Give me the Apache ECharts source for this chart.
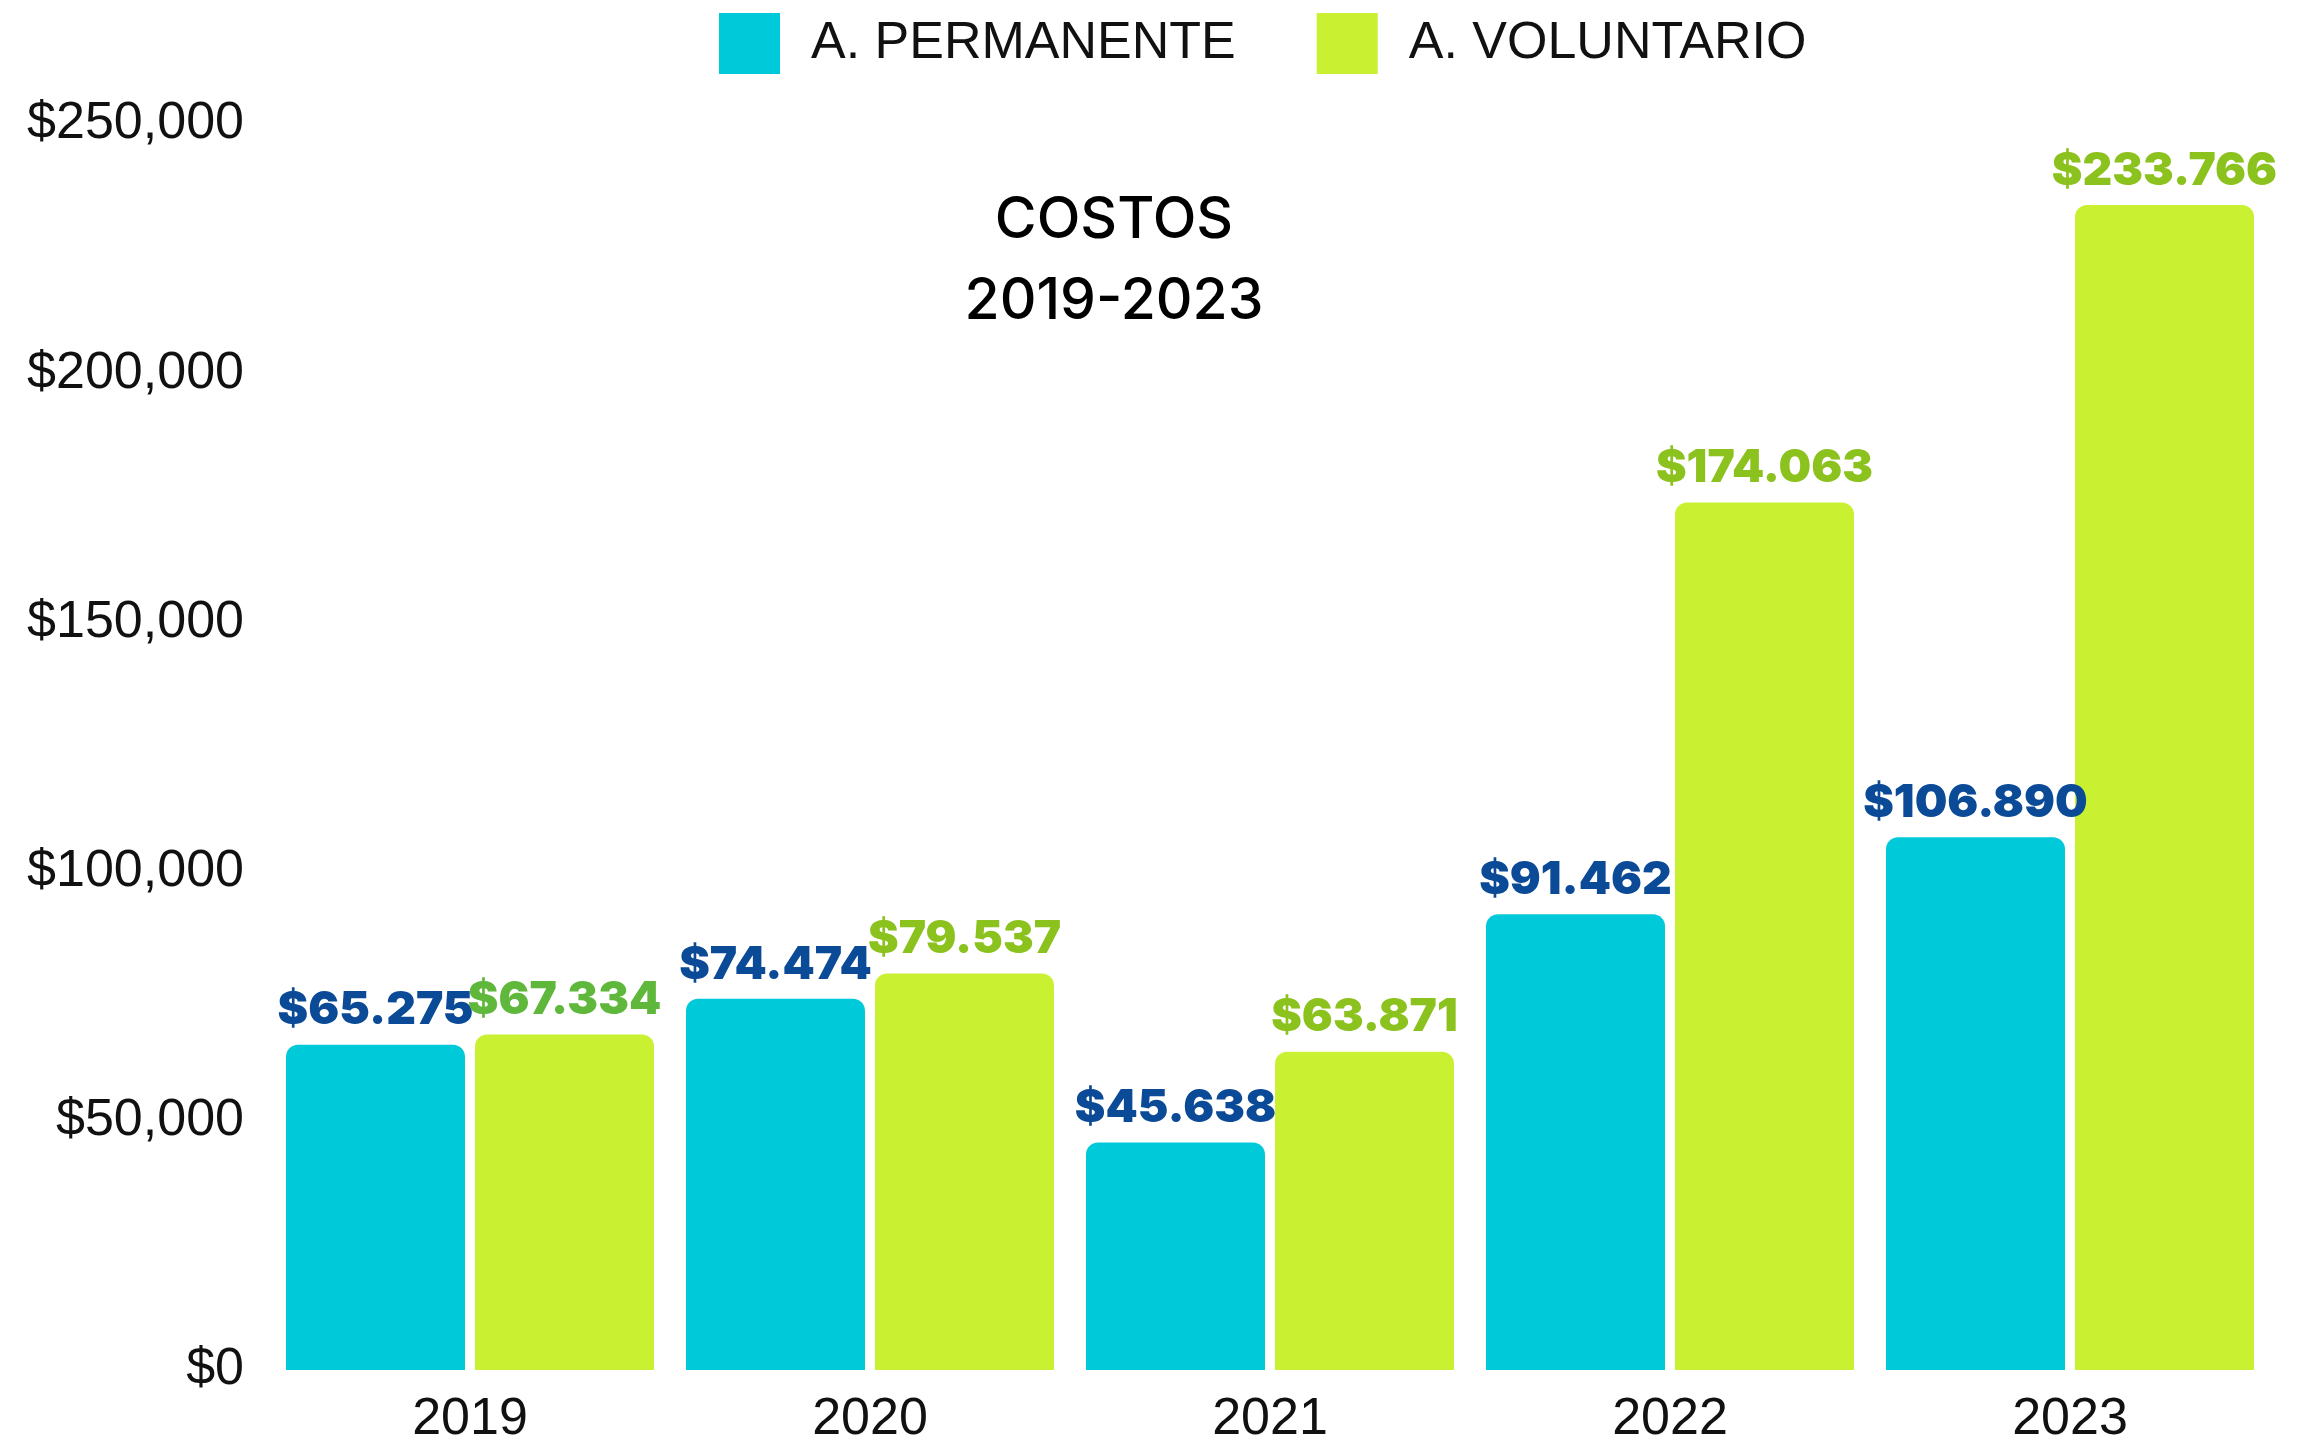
<!DOCTYPE html>
<html><head><meta charset="utf-8">
<script src="https://cdn.jsdelivr.net/npm/echarts@6/dist/echarts.min.js"></script>
<style>html,body{margin:0;padding:0;background:#fff;overflow:hidden}#c{width:2321px;height:1446px}</style>
</head><body><div id="c"></div>
<script>
const years = ['2019','2020','2021','2022','2023'];
const permanente = [65275, 74474, 45638, 91462, 106890];
const voluntario = [67334, 79537, 63871, 174063, 233766];
const voluntarioLabelColors = ['#5fb83b','#8cc21e','#8cc21e','#8cc21e','#8cc21e'];
const seriesNames = ['A. PERMANENTE','A. VOLUNTARIO'];
const titleLines = ['COSTOS','2019-2023'];

function fmt(v){ return '$' + String(v).replace(/\B(?=(\d{3})+(?!\d))/g,'.'); }
function fmtAxis(v){ return '$' + String(v).replace(/\B(?=(\d{3})+(?!\d))/g,','); }

const chart = echarts.init(document.getElementById('c'));
const labelBase = {show:true, position:'top', distance:11, fontFamily:'Inter', fontWeight:900, fontSize:46};
chart.setOption({
  animation:false,
  title:{text:titleLines.join('\n'), left:1114, top:180, textAlign:'center', padding:0,
    textStyle:{fontFamily:'Inter', fontWeight:500, fontSize:57, lineHeight:81, color:'#000'}},
  legend:{left:719, top:13, itemWidth:61, itemHeight:61, itemGap:81, icon:'rect', padding:0,
    textStyle:{fontFamily:'Liberation Sans', fontSize:52, color:'#111', padding:[7,0,0,26]}},
  grid:{left:270, width:2000, top:124, height:1272, containLabel:false},
  xAxis:{type:'category', data:years, axisLine:{show:false}, axisTick:{show:false},
    axisLabel:{fontFamily:'Liberation Sans', fontSize:52, color:'#111', margin:24}},
  yAxis:{type:'value', min:0, max:250000, interval:50000, splitLine:{show:false},
    axisLine:{show:false}, axisTick:{show:false},
    axisLabel:{fontFamily:'Liberation Sans', fontSize:52, color:'#111', margin:26, formatter:fmtAxis}},
  series:[
    {name:seriesNames[0], type:'bar', data:permanente, barGap:'5.6%', barCategoryGap:'8%',
      itemStyle:{color:'#00c9d9', borderRadius:[12,12,0,0]},
      label:Object.assign({}, labelBase, {color:'#0b4a97', formatter:p=>fmt(p.value)})},
    {name:seriesNames[1], type:'bar', data:voluntario.map((v,i)=>({value:v, label:{color:voluntarioLabelColors[i]}})),
      barGap:'5.6%', barCategoryGap:'8%',
      itemStyle:{color:'#caf032', borderRadius:[12,12,0,0]},
      label:Object.assign({}, labelBase, {formatter:p=>fmt(p.value)})}
  ]
});
</script></body></html>
